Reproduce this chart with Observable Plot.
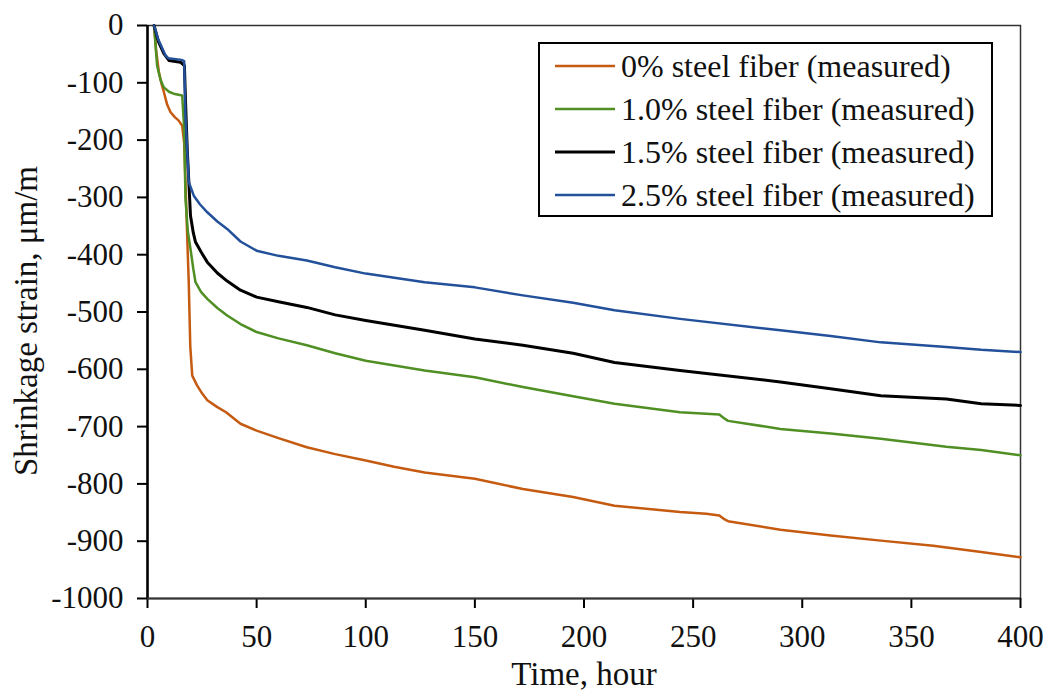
<!DOCTYPE html>
<html><head><meta charset="utf-8">
<script src="https://cdn.jsdelivr.net/npm/d3@7"></script>
<script src="https://cdn.jsdelivr.net/npm/@observablehq/plot@0.6"></script>
<style>
html,body{margin:0;padding:0;background:#fff;}
#wrap{position:relative;width:1049px;height:693px;overflow:hidden;font-family:"Liberation Serif","Tinos","Times New Roman","Times","Nimbus Roman","DejaVu Serif",serif;}
#legend{position:absolute;left:538px;top:42px;width:455px;height:175px;box-sizing:border-box;border:2px solid #000;background:#fff;}
.row{position:absolute;left:0;height:43px;display:flex;align-items:center;font-size:32px;color:#111;white-space:nowrap;}
.row svg{margin-left:15px;margin-right:6px;display:block;}
</style></head><body><div id="wrap"></div>
<script>
// ---- data ----
const seriesNames = ["0% steel fiber (measured)", "1.0% steel fiber (measured)", "1.5% steel fiber (measured)", "2.5% steel fiber (measured)"];
const seriesColors = ["#c55a11", "#4f8f23", "#000000", "#23509a"];
const seriesWidths = [2.5, 2.5, 3, 2.5];
const xTicks = [0, 50, 100, 150, 200, 250, 300, 350, 400];
const yTicks = [0, -100, -200, -300, -400, -500, -600, -700, -800, -900, -1000];

const time0 = [3,4,5.2,6.5,7.5,9,10.5,12.5,14.3,15.9,16.8,17.4,18.2,18.9,19.6,20.5,22.7,25,27.4,32,36,42.6,50,60,73,86,100,113,127,150,172,195,214,244,256,262,264,266,290,313,336,360,382,400];
const strain0 = [0,-45,-81,-103,-116,-138,-151,-160,-166,-175,-205,-273,-370,-448,-560,-611,-628,-642,-654,-666,-675,-695,-707,-720,-736,-748,-759,-770,-780,-791,-809,-823,-838,-849,-852,-855,-861,-865,-880,-890,-899,-908,-919,-928];

const time10 = [3,4.4,6,7.5,10,12,15.9,16.8,17.4,18.5,19.7,21,22,24.5,27.4,32,36.5,42.6,50,60,73,86,100,127,150,172,195,214,244,262,264,266,290,313,336,366,382,400];
const strain10 = [0,-70,-95,-108,-116,-119,-122,-180,-302,-360,-390,-425,-448,-465,-477,-493,-506,-521,-535,-546,-558,-572,-585,-602,-614,-631,-647,-660,-675,-679,-685,-690,-704,-712,-721,-735,-741,-750];

const time15 = [3,5,7.5,9.8,15.1,16.9,17.5,18.2,19.7,21,22,24.5,27.4,32,36.5,42.6,50,60,73,86,100,127,150,172,195,214,244,290,313,336,366,382,400];
const strain15 = [0,-28,-49,-61,-64,-70,-140,-215,-332,-362,-378,-395,-413,-432,-446,-462,-474,-482,-492,-505,-515,-532,-547,-558,-572,-588,-602,-622,-634,-646,-652,-660,-663];

const time25 = [3,5,8.2,9.5,15.6,16.8,17.4,18.9,21.2,24,27.4,32,36.5,42.6,50,60,73,86,100,127,150,172,195,214,244,290,313,336,366,382,400];
const strain25 = [0,-25,-52,-57,-60,-62,-157,-273,-297,-312,-326,-342,-355,-377,-393,-402,-410,-422,-433,-448,-457,-471,-484,-497,-512,-532,-542,-553,-561,-566,-570];

const seriesTimes = [time0, time10, time15, time25];
const seriesStrains = [strain0, strain10, strain15, strain25];

const rows = seriesNames.flatMap((name, i) =>
  seriesTimes[i].map((t, j) => ({series: name, t, s: seriesStrains[i][j]})));

const font = '"Liberation Serif","Tinos","Times New Roman","Times","Nimbus Roman","DejaVu Serif",serif';

const chart = Plot.plot({
  width: 1049, height: 693,
  marginLeft: 147, marginRight: 29, marginTop: 25, marginBottom: 95,
  style: {fontFamily: font, fontSize: "31px", color: "#111", background: "#fff"},
  x: {domain: [0, 400]},
  y: {domain: [-1000, 0]},
  marks: [
    Plot.frame({stroke: "#333", strokeWidth: 1.5}),
    Plot.axisX({ticks: xTicks, tickSize: 10, tickPadding: 16, label: null, strokeWidth: 2, stroke: "#000", fill: "#111"}),
    Plot.axisY({ticks: yTicks, tickSize: 10, tickPadding: 14, label: null, strokeWidth: 2, stroke: "#000", fill: "#111", tickFormat: d => String(d)}),
    Plot.ruleX([0], {stroke: "#000", strokeWidth: 2.5}),
    Plot.ruleY([-1000], {stroke: "#333", strokeWidth: 2}),
    ...seriesNames.map((name, i) => Plot.line(rows.filter(r => r.series === name), {
      x: "t", y: "s", stroke: seriesColors[i], strokeWidth: seriesWidths[i], strokeLinejoin: "round"
    })),
    Plot.text(["Time, hour"], {frameAnchor: "bottom", textAnchor: "middle", lineAnchor: "middle", dy: 76, fontSize: 33, fill: "#111"}),
    Plot.text(["Shrinkage strain, μm/m"], {frameAnchor: "left", textAnchor: "middle", lineAnchor: "middle", dx: -121, dy: 9, rotate: -90, fontSize: 33, fill: "#111"})
  ]
});

const wrap = document.getElementById("wrap");
wrap.appendChild(chart);

// legend overlay
const legend = document.createElement("div");
legend.id = "legend";
seriesNames.forEach((name, i) => {
  const row = document.createElement("div");
  row.className = "row";
  row.style.top = (0.5 + i * 43) + "px";
  const sw = d3.create("svg").attr("width", 60).attr("height", 6);
  sw.append("line").attr("x1", 0).attr("x2", 60).attr("y1", 3).attr("y2", 3)
    .attr("stroke", seriesColors[i]).attr("stroke-width", seriesWidths[i]);
  row.appendChild(sw.node());
  const span = document.createElement("span");
  span.textContent = name;
  row.appendChild(span);
  legend.appendChild(row);
});
wrap.appendChild(legend);
</script></body></html>
